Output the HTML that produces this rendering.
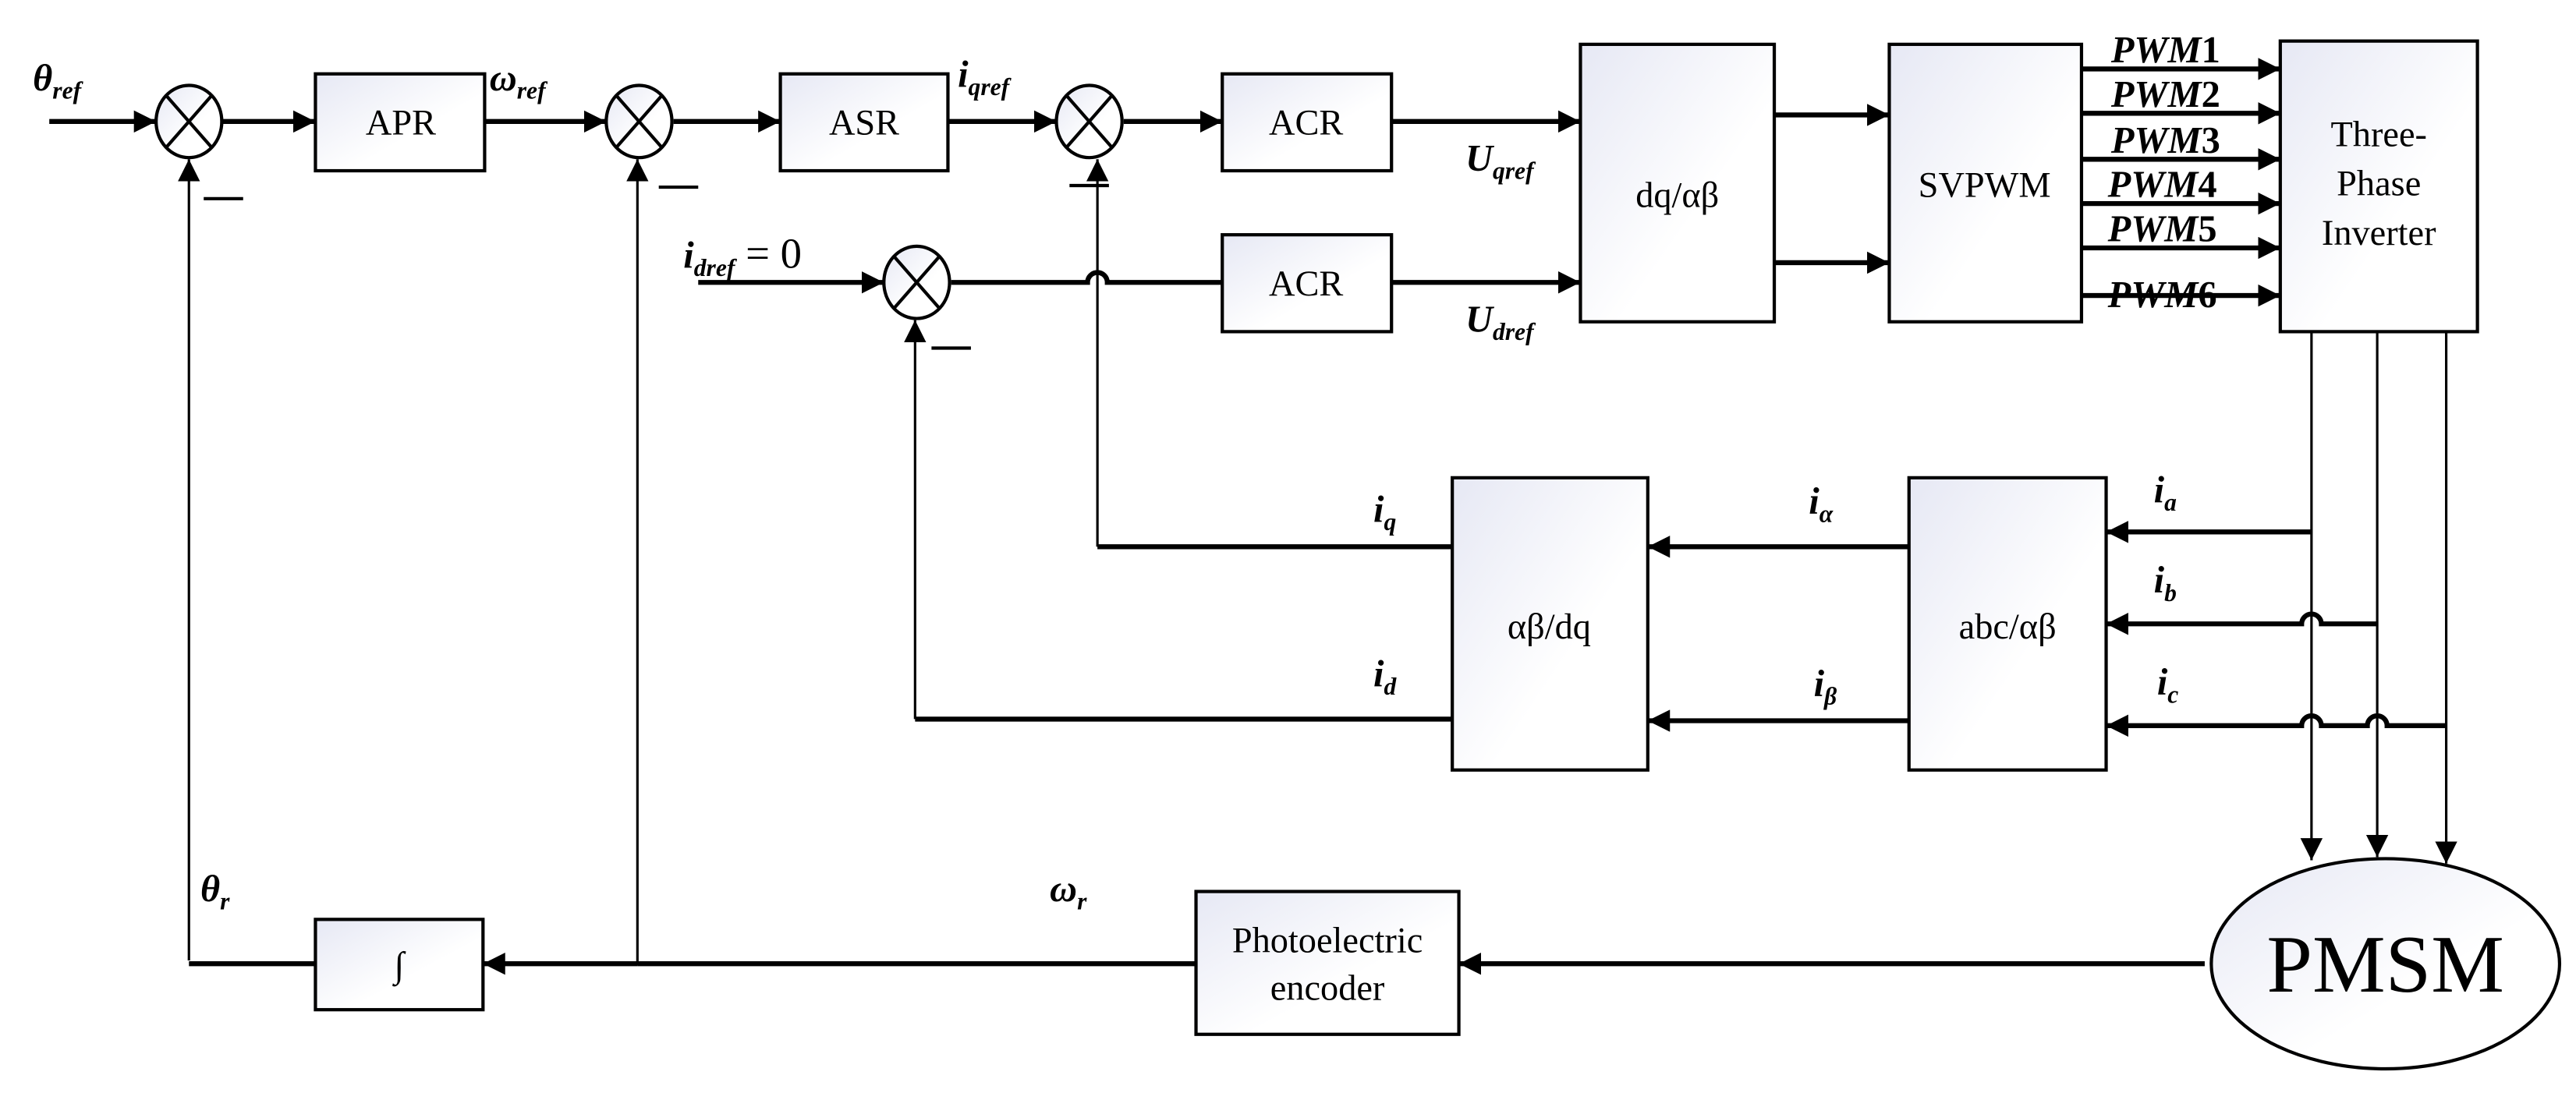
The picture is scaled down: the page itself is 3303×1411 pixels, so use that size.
<!DOCTYPE html>
<html><head><meta charset="utf-8"><style>
html,body{margin:0;padding:0;background:#fff;}
svg{display:block;}
text{font-family:"Liberation Serif",serif;fill:#000;}
.lab{font-style:italic;font-weight:bold;font-size:23px;}
.sub{font-size:15px;}
.box{font-size:22px;}
</style></head><body>
<svg width="3303" height="1411" viewBox="0 0 1568 670" preserveAspectRatio="none" xmlns="http://www.w3.org/2000/svg">
<defs>
<linearGradient id="g" x1="0" y1="0" x2="1" y2="1"><stop offset="0" stop-color="#e6e8f4"/><stop offset="0.6" stop-color="#ffffff"/></linearGradient>
<marker id="a" viewBox="0 0 10 10" refX="10" refY="5" markerWidth="4.5" markerHeight="4.5" markerUnits="strokeWidth" orient="auto"><path d="M0,0L10,5L0,10z" fill="#000"/></marker>
<marker id="b" viewBox="0 0 10 10" refX="10" refY="5" markerWidth="9" markerHeight="9" markerUnits="strokeWidth" orient="auto"><path d="M0,0L10,5L0,10z" fill="#000"/></marker>
</defs>
<g stroke="#000" fill="none">
<g stroke-width="3" marker-end="url(#a)">
<line x1="30" y1="74" x2="95" y2="74"/>
<line x1="135" y1="74" x2="192" y2="74"/>
<line x1="295" y1="74" x2="369" y2="74"/>
<line x1="410" y1="74" x2="475" y2="74"/>
<line x1="577" y1="74" x2="643" y2="74"/>
<line x1="684" y1="74" x2="744" y2="74"/>
<line x1="847" y1="74" x2="962" y2="74"/>
<line x1="425" y1="172" x2="538" y2="172"/>
<line x1="847" y1="172" x2="962" y2="172"/>
<line x1="1080" y1="70" x2="1150" y2="70"/>
<line x1="1080" y1="160" x2="1150" y2="160"/>
<line x1="1267" y1="42" x2="1388" y2="42"/>
<line x1="1267" y1="69" x2="1388" y2="69"/>
<line x1="1267" y1="97" x2="1388" y2="97"/>
<line x1="1267" y1="124" x2="1388" y2="124"/>
<line x1="1267" y1="151" x2="1388" y2="151"/>
<line x1="1267" y1="180" x2="1388" y2="180"/>
<line x1="1162" y1="333" x2="1003" y2="333"/>
<line x1="1162" y1="439" x2="1003" y2="439"/>
<line x1="1407" y1="324" x2="1282" y2="324"/>
<path d="M1447,380H1413a6,6 0 0 0 -12,0H1282"/>
<path d="M1489,442H1453a6,6 0 0 0 -12,0H1413a6,6 0 0 0 -12,0H1282"/>
<line x1="1342" y1="587" x2="888" y2="587"/>
<line x1="388" y1="587" x2="294" y2="587"/>
</g>
<path d="M579,172H662a6,6 0 0 1 12,0H744" stroke-width="3"/>
<g stroke-width="1.5">
<line x1="115" y1="585" x2="115" y2="97" marker-end="url(#b)"/>
<line x1="388" y1="588" x2="388" y2="97" marker-end="url(#b)"/>
<line x1="668" y1="333" x2="668" y2="97" marker-end="url(#b)"/>
<line x1="557" y1="438" x2="557" y2="195" marker-end="url(#b)"/>
<line x1="1407" y1="202" x2="1407" y2="524" marker-end="url(#b)"/>
<line x1="1447" y1="202" x2="1447" y2="522" marker-end="url(#b)"/>
<line x1="1489" y1="202" x2="1489" y2="526" marker-end="url(#b)"/>
</g>
<g stroke-width="3">
<line x1="668" y1="333" x2="884" y2="333"/>
<line x1="557" y1="438" x2="884" y2="438"/>
<line x1="115" y1="587" x2="192" y2="587"/>
<line x1="728" y1="587" x2="388" y2="587"/>
</g>
<g stroke-width="2" fill="url(#g)">
<ellipse cx="115" cy="74" rx="20" ry="22"/>
<ellipse cx="389" cy="74" rx="20" ry="22"/>
<ellipse cx="663" cy="74" rx="20" ry="22"/>
<ellipse cx="558" cy="172" rx="20" ry="22"/>
</g>
<g stroke-width="2">
<path d="M101,58L129,90M129,58L101,90"/>
<path d="M375,58L403,90M403,58L375,90"/>
<path d="M649,58L677,90M677,58L649,90"/>
<path d="M544,156L572,188M572,156L544,188"/>
<line x1="124" y1="121" x2="148" y2="121"/>
<line x1="401" y1="114" x2="425" y2="114"/>
<line x1="651" y1="113" x2="675" y2="113"/>
<line x1="567" y1="212" x2="591" y2="212"/>
</g>
<g stroke-width="2" fill="url(#g)">
<rect x="192" y="45" width="103" height="59"/>
<rect x="475" y="45" width="102" height="59"/>
<rect x="744" y="45" width="103" height="59"/>
<rect x="744" y="143" width="103" height="59"/>
<rect x="962" y="27" width="118" height="169"/>
<rect x="1150" y="27" width="117" height="169"/>
<rect x="1388" y="25" width="120" height="177"/>
<rect x="884" y="291" width="119" height="178"/>
<rect x="1162" y="291" width="120" height="178"/>
<rect x="192" y="560" width="102" height="55"/>
<rect x="728" y="543" width="160" height="87"/>
<ellipse cx="1452" cy="587" rx="106" ry="64"/>
</g>
</g>
<g class="box" text-anchor="middle">
<text x="244" y="82">APR</text>
<text x="526" y="82">ASR</text>
<text x="795" y="82">ACR</text>
<text x="795" y="180">ACR</text>
<text x="1021" y="126">dq/αβ</text>
<text x="1208" y="120">SVPWM</text>
<text x="1448" y="89">Three-</text>
<text x="1448" y="119">Phase</text>
<text x="1448" y="149">Inverter</text>
<text x="943" y="389">αβ/dq</text>
<text x="1222" y="389">abc/αβ</text>
<text x="243" y="595">∫</text>
<text x="808" y="580">Photoelectric</text>
<text x="808" y="609">encoder</text>
<text x="1452" y="604" style="font-size:50px">PMSM</text>
</g>
<g class="lab">
<text x="20" y="55">θ<tspan class="sub" dy="5">ref</tspan></text>
<text x="298" y="55">ω<tspan class="sub" dy="5">ref</tspan></text>
<text x="583" y="53">i<tspan class="sub" dy="5">qref</tspan></text>
<text x="892" y="104">U<tspan class="sub" dy="5">qref</tspan></text>
<text x="892" y="202">U<tspan class="sub" dy="5">dref</tspan></text>
<text x="416" y="163">i<tspan class="sub" dy="5">dref</tspan><tspan dy="-5" style="font-style:normal;font-weight:normal;font-size:26px"> = 0</tspan></text>
<text x="1285" y="38">PWM<tspan style="font-style:normal">1</tspan></text>
<text x="1285" y="65">PWM<tspan style="font-style:normal">2</tspan></text>
<text x="1285" y="93">PWM<tspan style="font-style:normal">3</tspan></text>
<text x="1283" y="120">PWM<tspan style="font-style:normal">4</tspan></text>
<text x="1283" y="147">PWM<tspan style="font-style:normal">5</tspan></text>
<text x="1283" y="187">PWM<tspan style="font-style:normal">6</tspan></text>
<text x="836" y="318">i<tspan class="sub" dy="5">q</tspan></text>
<text x="836" y="418">i<tspan class="sub" dy="5">d</tspan></text>
<text x="1101" y="313">i<tspan class="sub" dy="5">α</tspan></text>
<text x="1104" y="424">i<tspan class="sub" dy="5">β</tspan></text>
<text x="1311" y="306">i<tspan class="sub" dy="5">a</tspan></text>
<text x="1311" y="361">i<tspan class="sub" dy="5">b</tspan></text>
<text x="1313" y="423">i<tspan class="sub" dy="5">c</tspan></text>
<text x="122" y="549">θ<tspan class="sub" dy="5">r</tspan></text>
<text x="639" y="549">ω<tspan class="sub" dy="5">r</tspan></text>
</g>
</svg>
</body></html>
